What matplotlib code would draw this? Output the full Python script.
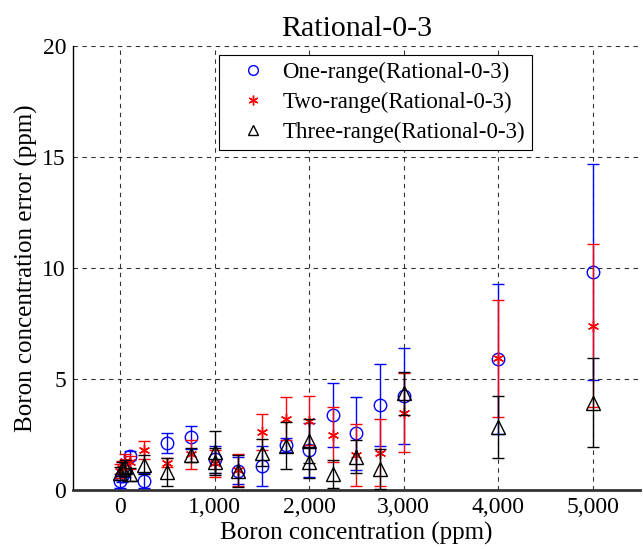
import matplotlib
matplotlib.use("Agg")
import matplotlib.pyplot as plt
from matplotlib.lines import Line2D

plt.rcParams['font.family'] = ['Liberation Serif', 'DejaVu Serif']

# one-range (blue circles)
x_one = [0, 20, 50, 100, 250, 500, 750, 1000, 1250, 1500, 1750, 2000, 2250, 2500, 2750, 3000, 4000, 5000]
y_one = [0.40, 0.65, 0.90, 1.55, 0.42, 2.13, 2.37, 1.38, 0.87, 1.08, 2.03, 1.80, 3.38, 2.55, 3.83, 4.23, 5.90, 9.83]
e_one = [0.30, 0.30, 0.30, 0.22, 0.33, 0.45, 0.52, 0.60, 0.60, 0.88, 0.30, 1.20, 1.45, 1.66, 1.85, 2.15, 3.40, 4.87]

# two-range (red stars)
x_two = [0, 20, 50, 100, 250, 500, 750, 1000, 1250, 1500, 1750, 2000, 2250, 2500, 2750, 3000, 4000, 5000]
y_two = [0.85, 1.00, 1.30, 1.25, 1.80, 1.23, 1.60, 1.20, 0.90, 2.60, 3.22, 3.12, 2.48, 1.58, 1.68, 3.48, 5.93, 7.40]
e_two = [0.30, 0.30, 0.30, 0.30, 0.42, 0.20, 0.65, 0.60, 0.70, 0.82, 0.98, 1.10, 1.24, 1.38, 1.52, 1.78, 2.63, 3.67]

# three-range (black triangles)
x_three = [0, 20, 50, 100, 250, 500, 750, 1000, 1000, 1250, 1500, 1750, 2000, 2000, 2250, 2500, 2750, 3000, 4000, 5000]
y_three = [0.75, 0.95, 1.05, 0.70, 1.13, 0.82, 1.58, 1.73, 1.28, 0.85, 1.68, 2.00, 2.20, 1.25, 0.72, 1.50, 0.95, 4.35, 2.82, 3.93]
e_three = [0.30, 0.30, 0.30, 0.30, 0.43, 0.62, 0.30, 0.95, 0.60, 0.72, 0.60, 1.05, 1.00, 0.70, 0.65, 0.75, 0.90, 0.95, 1.40, 2.00]

labels = ["One-range(Rational-0-3)", "Two-range(Rational-0-3)", "Three-range(Rational-0-3)"]

fig = plt.figure(figsize=(6.43, 5.49), dpi=100)
ax = fig.add_axes([0.1135, 0.1075, 0.8815, 0.8085])

star = (6, 2, 0)
ax.errorbar(x_one, y_one, yerr=e_one, fmt='o', color='#0000ff', mfc='none', mec='#0000ff',
            ms=9, mew=1.0, elinewidth=1.0, capsize=4, capthick=1.0, zorder=3)
ax.errorbar(x_two, y_two, yerr=e_two, fmt='none', ecolor='#ff0000',
            elinewidth=1.0, capsize=4, capthick=1.0, zorder=4)
ax.plot(x_two, y_two, linestyle='none', marker=star, color='#ff0000', ms=8, mew=1.0, zorder=4)
ax.errorbar(x_three, y_three, yerr=e_three, fmt='^', color='black', mfc='none', mec='black',
            ms=10, mew=1.0, elinewidth=1.0, capsize=4, capthick=1.0, zorder=5)

ax.set_xlim(-500, 5500)
ax.set_ylim(0, 20)
ax.set_xticks([0, 1000, 2000, 3000, 4000, 5000])
ax.set_xticklabels(["0", "1,000", "2,000", "3,000", "4,000", "5,000"])
ax.set_yticks([0, 5, 10, 15, 20])
ax.tick_params(length=0, labelsize=17, pad=5)

ax.grid(True, linestyle=(0, (4, 4)), color='black', linewidth=0.8, alpha=0.8)
ax.set_axisbelow(True)
for s in ['top', 'right']:
    ax.spines[s].set_visible(False)
ax.spines['bottom'].set_linewidth(2.0)
ax.spines['bottom'].set_color('#333333')
ax.spines['left'].set_linewidth(1.0)

ax.set_xlabel("Boron concentration (ppm)", fontsize=18, labelpad=3)
ax.set_ylabel("Boron concentration error (ppm)", fontsize=18, labelpad=3)
ax.set_title("Rational-0-3", fontsize=21.5, pad=7)

handles = [
    Line2D([], [], linestyle='none', marker='o', mfc='none', mec='#0000ff', ms=7, mew=1.0),
    Line2D([], [], linestyle='none', marker=star, color='#ff0000', ms=7, mew=1.0),
    Line2D([], [], linestyle='none', marker='^', mfc='none', mec='black', ms=7, mew=1.0),
]
leg = ax.legend(handles, labels, loc='upper center', bbox_to_anchor=(0.534, 0.98), fontsize=16.5,
                frameon=True, fancybox=False, edgecolor='black', framealpha=1,
                handlelength=2.3, handletextpad=0.15, labelspacing=0.38, borderpad=0.3,
                borderaxespad=0, numpoints=1)
leg.get_frame().set_linewidth(0.8)

fig.savefig("out.png", dpi=100)
